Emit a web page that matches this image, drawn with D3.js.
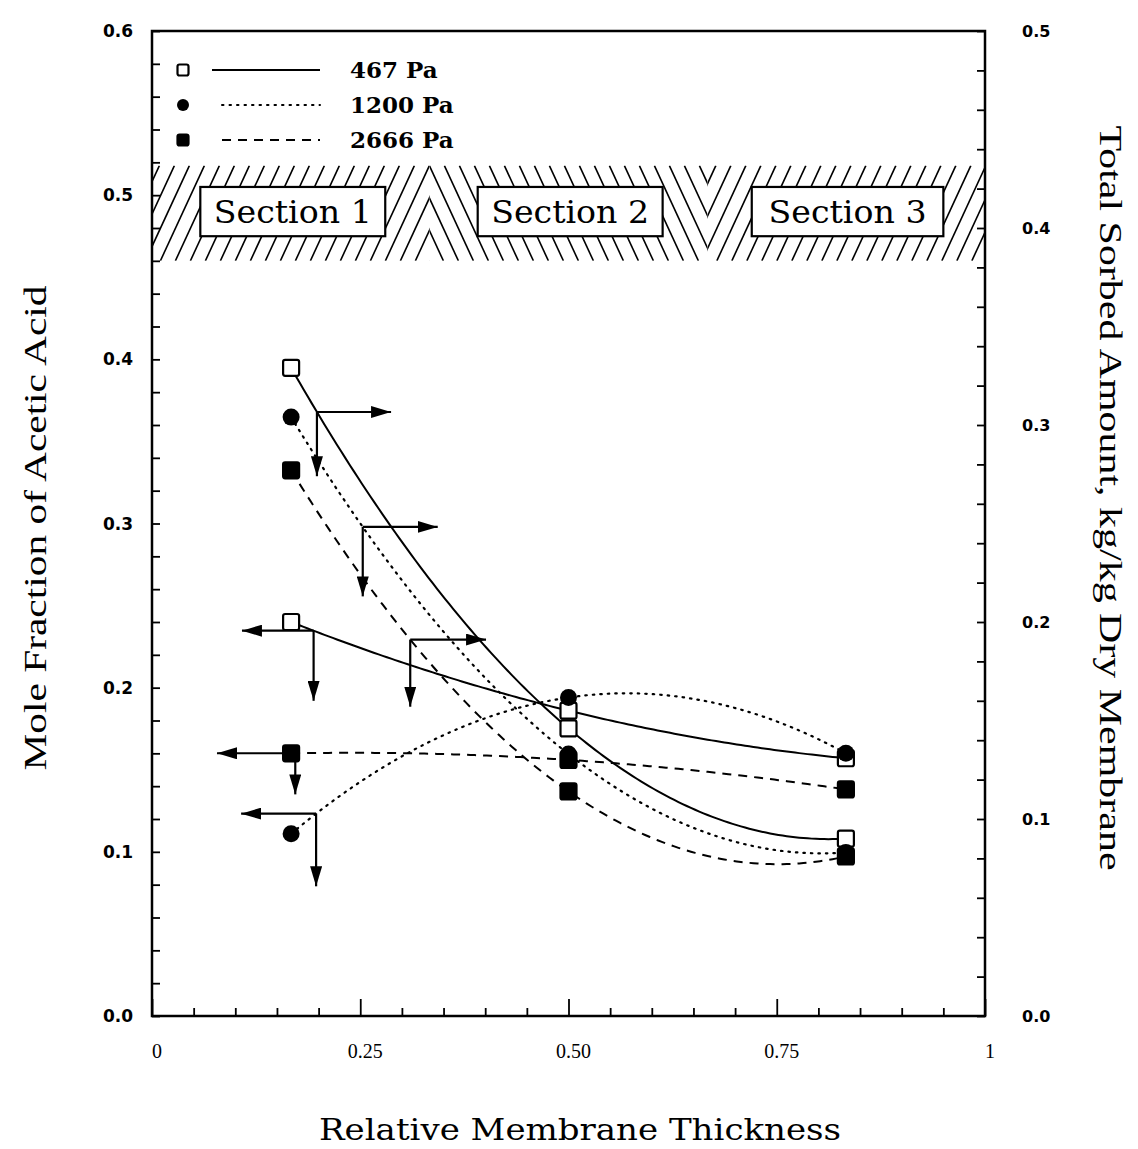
<!DOCTYPE html>
<html><head><meta charset="utf-8">
<script src="https://cdn.jsdelivr.net/npm/d3@7"></script>
<style>body{margin:0;background:#fff}svg{display:block}</style>
</head><body>
<svg id="chart" width="1138" height="1149"></svg>
<script>
// ---------- data ----------
const pressures = ["467 Pa", "1200 Pa", "2666 Pa"];
const xPositions = [0.167, 0.5, 0.833];
// mole fraction of acetic acid (left axis)
const moleFraction467 = [0.240, 0.186, 0.157];
const moleFraction1200 = [0.111, 0.194, 0.160];
const moleFraction2666 = [0.160, 0.156, 0.138];
// total sorbed amount (right axis)
const sorbed467 = [0.329, 0.146, 0.090];
const sorbed1200 = [0.304, 0.133, 0.083];
const sorbed2666 = [0.277, 0.114, 0.081];
// axis-indicator arrows: elbow x, horizontal tip x, vertical tip y (own axis units)
const arrowElbowX = [0.198, 0.253, 0.310, 0.194, 0.197, 0.172];
const arrowTipX = [0.287, 0.343, 0.401, 0.108, 0.107, 0.078];
const arrowTipY = [0.274, 0.213, 0.157, 0.192, 0.079, 0.135];
// sections
const sectionLabels = ["Section 1", "Section 2", "Section 3"];
const sectionBounds = [0, 0.333, 0.667, 1];
const sectionHatch = ["/", "\\", "/"];
const sectionBoxX0 = [0.058, 0.391, 0.720];
const sectionBoxX1 = [0.280, 0.613, 0.950];
// tick labels
const leftTicks = [0, 0.1, 0.2, 0.3, 0.4, 0.5, 0.6];
const rightTicks = [0, 0.1, 0.2, 0.3, 0.4, 0.5];
const xTicks = [0, 0.25, 0.5, 0.75, 1];
const xTickLabels = ["0", "0.25", "0.50", "0.75", "1"];

// ---------- layout ----------
const L = 152, R = 985, T = 31, B = 1016;
const svg = d3.select("#chart");
const x = d3.scaleLinear().domain([0, 1]).range([L, R]);
const yL = d3.scaleLinear().domain([0, 0.6]).range([B, T]);
const yR = d3.scaleLinear().domain([0, 0.5]).range([B, T]);

const defs = svg.append("defs");
defs.append("marker").attr("id", "ah").attr("viewBox", "0 0 20 12")
  .attr("refX", 20).attr("refY", 6).attr("markerWidth", 20).attr("markerHeight", 12)
  .attr("markerUnits", "userSpaceOnUse").attr("orient", "auto")
  .append("path").attr("d", "M0,0 L20,6 L0,12 Z").attr("fill", "#000");

// ---------- hatched band ----------
const bandTop = yL(0.518), bandBot = yL(0.460);
const bandH = bandBot - bandTop, run = 44, spacing = 15;
sectionBounds.slice(0, 3).forEach((b0, i) => {
  const b1 = sectionBounds[i + 1];
  const cid = "clip" + i;
  defs.append("clipPath").attr("id", cid).append("rect")
    .attr("x", x(b0)).attr("y", bandTop).attr("width", x(b1) - x(b0)).attr("height", bandH);
  const g = svg.append("g").attr("clip-path", `url(#${cid})`);
  const anchor = x(sectionBounds[1]);
  const anchor2 = x(sectionBounds[2]);
  for (let k = -80; k <= 80; k++) {
    let xm;
    if (i === 0) xm = anchor - 7 - k * spacing;
    else if (i === 1) xm = anchor + 7 + k * spacing;
    else xm = anchor2 + (anchor2 - (anchor + 7 + k * spacing));
    const dir = sectionHatch[i] === "/" ? 1 : -1;
    g.append("line")
      .attr("x1", xm - dir * run / 2).attr("y1", bandBot)
      .attr("x2", xm + dir * run / 2).attr("y2", bandTop)
      .attr("stroke", "#000").attr("stroke-width", 1.6);
  }
});
sectionLabels.forEach((s, i) => {
  const bx0 = x(sectionBoxX0[i]), bx1 = x(sectionBoxX1[i]);
  const by0 = yL(0.505), by1 = yL(0.475);
  svg.append("rect").attr("x", bx0).attr("y", by0).attr("width", bx1 - bx0).attr("height", by1 - by0)
    .attr("fill", "#fff").attr("stroke", "#000").attr("stroke-width", 2.2);
  svg.append("text").attr("x", (bx0 + bx1) / 2).attr("y", (by0 + by1) / 2 + 11)
    .attr("text-anchor", "middle").attr("font-family", "DejaVu Serif, serif")
    .attr("font-size", 31).attr("textLength", 158).attr("lengthAdjust", "spacingAndGlyphs")
    .text(s);
});

// ---------- frame and ticks ----------
svg.append("rect").attr("x", L).attr("y", T).attr("width", R - L).attr("height", B - T)
  .attr("fill", "none").attr("stroke", "#000").attr("stroke-width", 2.5);

const axL = d3.axisRight(yL).tickValues(d3.range(0, 0.6001, 0.02)).tickSize(8).tickFormat("");
svg.append("g").attr("transform", `translate(${L},0)`).call(axL).call(g => g.select(".domain").remove())
  .selectAll("line").attr("stroke-width", 1.8);
const axR = d3.axisLeft(yR).tickValues(d3.range(0, 0.5001, 0.02)).tickSize(8).tickFormat("");
svg.append("g").attr("transform", `translate(${R},0)`).call(axR).call(g => g.select(".domain").remove())
  .selectAll("line").attr("stroke-width", 1.8);
const axB = d3.axisTop(x).tickValues(d3.range(0, 1.0001, 0.05)).tickSize(8).tickFormat("");
const gB = svg.append("g").attr("transform", `translate(0,${B})`).call(axB);
gB.select(".domain").remove();
gB.selectAll(".tick line").attr("stroke-width", 1.8)
  .attr("y2", d => (Math.abs(d * 4 - Math.round(d * 4)) < 1e-6 ? -17 : -8));

svg.append("g").selectAll("text").data(leftTicks).join("text")
  .attr("x", L - 19).attr("y", d => yL(d) + 6).attr("text-anchor", "end")
  .attr("font-family", "DejaVu Sans, sans-serif").attr("font-weight", "bold").attr("font-size", 17)
  .text(d => d.toFixed(1));
svg.append("g").selectAll("text").data(rightTicks).join("text")
  .attr("x", R + 37).attr("y", d => yR(d) + 6).attr("text-anchor", "start")
  .attr("font-family", "DejaVu Sans, sans-serif").attr("font-weight", "bold").attr("font-size", 16)
  .text(d => d.toFixed(1));
svg.append("g").selectAll("text").data(xTicks).join("text")
  .attr("x", d => x(d) + 5).attr("y", B + 42).attr("text-anchor", "middle")
  .attr("font-family", "Liberation Serif, serif").attr("font-size", 20)
  .text((d, i) => xTickLabels[i]);

// ---------- axis titles ----------
svg.append("text").attr("transform", "translate(46,528) rotate(-90)").attr("text-anchor", "middle")
  .attr("font-family", "Liberation Serif, serif").attr("font-size", 32)
  .attr("textLength", 485).attr("lengthAdjust", "spacingAndGlyphs")
  .text("Mole Fraction of Acetic Acid");
svg.append("text").attr("transform", "translate(1100,498) rotate(90)").attr("text-anchor", "middle")
  .attr("font-family", "Liberation Serif, serif").attr("font-size", 32)
  .attr("textLength", 745).attr("lengthAdjust", "spacingAndGlyphs")
  .text("Total Sorbed Amount, kg/kg Dry Membrane");
svg.append("text").attr("x", 580).attr("y", 1140).attr("text-anchor", "middle")
  .attr("font-family", "DejaVu Serif, serif").attr("font-size", 29)
  .attr("textLength", 522).attr("lengthAdjust", "spacingAndGlyphs")
  .text("Relative Membrane Thickness");

// ---------- curves ----------
const dashes = ["none", "1.5 6", "9 7"];
const markerType = ["open", "circle", "filled"];
function quad(xs, ys) { // quadratic through three points
  return t => {
    let s = 0;
    for (let i = 0; i < 3; i++) {
      let p = ys[i];
      for (let j = 0; j < 3; j++) if (j !== i) p *= (t - xs[j]) / (xs[i] - xs[j]);
      s += p;
    }
    return s;
  };
}
const series = [
  { vals: sorbed467, scale: yR, s: 0 },
  { vals: sorbed1200, scale: yR, s: 1 },
  { vals: sorbed2666, scale: yR, s: 2 },
  { vals: moleFraction467, scale: yL, s: 0 },
  { vals: moleFraction1200, scale: yL, s: 1 },
  { vals: moleFraction2666, scale: yL, s: 2 }
];
const line = d3.line().x(d => x(d[0])).y(d => d[1]);
series.forEach(sr => {
  const f = quad(xPositions, sr.vals);
  const pts = d3.range(xPositions[0], xPositions[2] + 1e-9, 0.005).map(t => [t, sr.scale(f(t))]);
  svg.append("path").attr("d", line(pts)).attr("fill", "none").attr("stroke", "#000")
    .attr("stroke-width", sr.s === 1 ? 2.2 : 2).attr("stroke-dasharray", dashes[sr.s])
    .attr("stroke-linecap", sr.s === 1 ? "round" : "butt");
});

// ---------- arrows ----------
series.forEach((sr, i) => {
  const f = quad(xPositions, sr.vals);
  const ex = x(arrowElbowX[i]), ey = sr.scale(f(arrowElbowX[i]));
  svg.append("line").attr("x1", ex).attr("y1", ey).attr("x2", x(arrowTipX[i])).attr("y2", ey)
    .attr("stroke", "#000").attr("stroke-width", 2.2).attr("marker-end", "url(#ah)");
  svg.append("line").attr("x1", ex).attr("y1", ey).attr("x2", ex).attr("y2", sr.scale(arrowTipY[i]))
    .attr("stroke", "#000").attr("stroke-width", 2.2).attr("marker-end", "url(#ah)");
});

// ---------- markers ----------
function drawMarker(g, type, cx, cy, size) {
  if (type === "circle") {
    g.append("circle").attr("cx", cx).attr("cy", cy).attr("r", size * 0.5).attr("fill", "#000");
  } else {
    g.append("rect").attr("x", cx - size / 2).attr("y", cy - size / 2).attr("width", size).attr("height", size)
      .attr("rx", 2).attr("fill", type === "open" ? "#fff" : "#000")
      .attr("stroke", "#000").attr("stroke-width", 2.2);
  }
}
const mg = svg.append("g");
[0, 3, 2, 5, 1, 4].forEach(i => {
  const sr = series[i];
  sr.vals.forEach((v, j) => drawMarker(mg, markerType[sr.s], x(xPositions[j]), sr.scale(v), sr.s === 1 ? 17 : 16));
});

// ---------- legend ----------
const lg = svg.append("g");
pressures.forEach((p, i) => {
  const yy = 70 + i * 35;
  drawMarker(lg, markerType[i], 183, yy, i === 1 ? 12 : 11);
  lg.append("line").attr("x1", i === 0 ? 212 : 222).attr("x2", 320).attr("y1", yy).attr("y2", yy)
    .attr("stroke", "#000").attr("stroke-width", 2).attr("stroke-dasharray", dashes[i])
    .attr("stroke-linecap", i === 1 ? "round" : "butt");
  lg.append("text").attr("x", 350).attr("y", yy + 8).attr("font-family", "DejaVu Serif, serif")
    .attr("font-weight", "bold").attr("font-size", 23).text(p);
});
</script>
</body></html>
